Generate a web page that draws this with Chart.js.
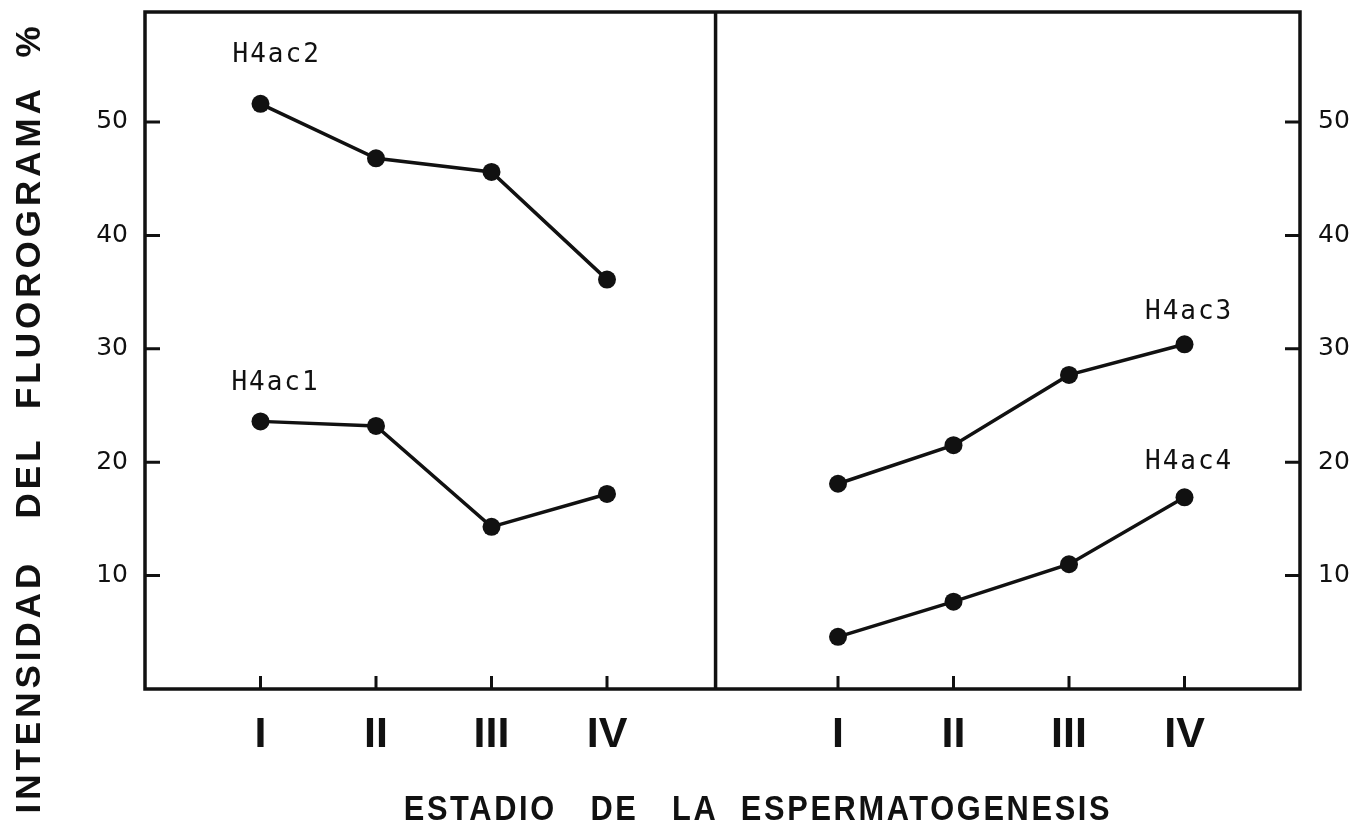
<!DOCTYPE html>
<html lang="es">
<head>
  <meta charset="UTF-8">
  <title>Intensidad del fluorograma</title>
  <script src="https://cdn.jsdelivr.net/npm/chart.js"></script>
  <style>
    html, body { margin: 0; padding: 0; background: #fff; }
    canvas { display: block; }
  </style>
</head>
<body>
  <canvas id="chart" width="1359" height="833"></canvas>

<script>
  // stages of spermatogenesis (same four in each panel)
  const stages = ['I', 'II', 'III', 'IV'];

  // left panel
  const h4ac2 = [51.6, 46.8, 45.6, 36.1];
  const h4ac1 = [23.6, 23.2, 14.3, 17.2];

  // right panel
  const h4ac3 = [18.1, 21.5, 27.7, 30.4];
  const h4ac4 = [4.6, 7.7, 11.0, 16.9];

  const yTicks = [10, 20, 30, 40, 50];

  // x positions: left panel stages sit at 1..4, right panel at 6..9
  const leftX = stages.map((s, i) => i + 1);
  const rightX = stages.map((s, i) => i + 6);
  const xTickPos = leftX.concat(rightX);
  const dividerX = 4.94;

  const ink = '#111';

  function series(xs, ys) {
    return {
      data: xs.map((x, i) => ({ x: x, y: ys[i] })),
      borderColor: ink,
      backgroundColor: ink,
      borderWidth: 3.5,
      pointRadius: 9,
      pointBorderWidth: 0,
      pointBackgroundColor: ink,
      tension: 0
    };
  }

  // series names drawn next to their curves
  const seriesNames = [
    { text: 'H4ac2', x: 1.14, y: 55.9 },
    { text: 'H4ac1', x: 1.13, y: 27.0 },
    { text: 'H4ac3', x: 9.04, y: 33.2 },
    { text: 'H4ac4', x: 9.04, y: 20.0 }
  ];

  // no extra room for half-labels, the frame is placed by hand
  function noPad(s) {
    s.paddingTop = 0;
    s.paddingBottom = 0;
    s.paddingLeft = 0;
    s.paddingRight = 0;
  }

  const framePlugin = {
    id: 'frame',
    afterDraw(chart) {
      const ctx = chart.ctx;
      const a = chart.chartArea;
      const xs = chart.scales.x;
      const ys = chart.scales.y;
      ctx.save();
      ctx.strokeStyle = ink;
      ctx.lineWidth = 3.5;
      ctx.strokeRect(a.left, a.top, a.right - a.left, a.bottom - a.top);

      // panel divider
      const dx = xs.getPixelForValue(dividerX);
      ctx.beginPath();
      ctx.moveTo(dx, a.top);
      ctx.lineTo(dx, a.bottom);
      ctx.stroke();

      // inward tick marks
      ctx.lineWidth = 3;
      yTicks.forEach(v => {
        const py = ys.getPixelForValue(v);
        ctx.beginPath();
        ctx.moveTo(a.left, py);
        ctx.lineTo(a.left + 15, py);
        ctx.moveTo(a.right - 15, py);
        ctx.lineTo(a.right, py);
        ctx.stroke();
      });
      xTickPos.forEach(v => {
        const px = xs.getPixelForValue(v);
        ctx.beginPath();
        ctx.moveTo(px, a.bottom);
        ctx.lineTo(px, a.bottom - 13);
        ctx.stroke();
      });

      // series names
      ctx.fillStyle = ink;
      ctx.font = '26px "DejaVu Sans Mono"';
      ctx.letterSpacing = '2px';
      ctx.textAlign = 'center';
      ctx.textBaseline = 'middle';
      seriesNames.forEach(n => {
        ctx.fillText(n.text, xs.getPixelForValue(n.x), ys.getPixelForValue(n.y));
      });

      // y axis title
      ctx.font = 'bold 35px "Liberation Sans"';
      ctx.letterSpacing = '4px';
      ctx.save();
      ctx.translate(30, 418);
      ctx.rotate(-Math.PI / 2);
      ctx.fillText('INTENSIDAD   DEL  FLUOROGRAMA  %', 0, 0);
      ctx.restore();

      // x axis title (condensed lettering)
      ctx.letterSpacing = '3px';
      ctx.save();
      ctx.translate(758, 810);
      ctx.scale(0.88, 1);
      ctx.fillText('ESTADIO   DE   LA  ESPERMATOGENESIS', 0, 0);
      ctx.restore();
      ctx.restore();
    }
  };

  new Chart(document.getElementById('chart').getContext('2d'), {
    type: 'line',
    data: {
      datasets: [
        series(leftX, h4ac2),
        series(leftX, h4ac1),
        series(rightX, h4ac3),
        series(rightX, h4ac4)
      ]
    },
    options: {
      responsive: false,
      animation: false,
      layout: { padding: { top: 12 } },
      plugins: {
        legend: { display: false },
        tooltip: { enabled: false }
      },
      scales: {
        x: {
          type: 'linear',
          min: 0,
          max: 10,
          grid: { display: false, drawTicks: false },
          border: { display: false },
          afterBuildTicks: s => { s.ticks = xTickPos.map(v => ({ value: v })); },
          afterFit: s => { s.height = 144; noPad(s); },
          ticks: {
            autoSkip: false,
            maxRotation: 0,
            padding: 20,
            color: ink,
            font: { family: '"Liberation Sans"', size: 43, weight: 'bold' },
            callback: v => stages[(v > 5 ? v - 6 : v - 1)]
          }
        },
        y: {
          position: 'left',
          min: 0,
          max: 59.7,
          grid: { display: false, drawTicks: false },
          border: { display: false },
          afterBuildTicks: s => { s.ticks = yTicks.map(v => ({ value: v })); },
          afterFit: s => { s.width = 145; noPad(s); },
          ticks: {
            padding: 17,
            color: ink,
            font: { family: '"DejaVu Sans"', size: 25 }
          }
        },
        y2: {
          position: 'right',
          min: 0,
          max: 59.7,
          grid: { display: false, drawTicks: false },
          border: { display: false },
          afterBuildTicks: s => { s.ticks = yTicks.map(v => ({ value: v })); },
          afterFit: s => { s.width = 59; noPad(s); },
          ticks: {
            padding: 18,
            color: ink,
            font: { family: '"DejaVu Sans"', size: 25 }
          }
        }
      }
    },
    plugins: [framePlugin]
  });
</script>
</body>
</html>
